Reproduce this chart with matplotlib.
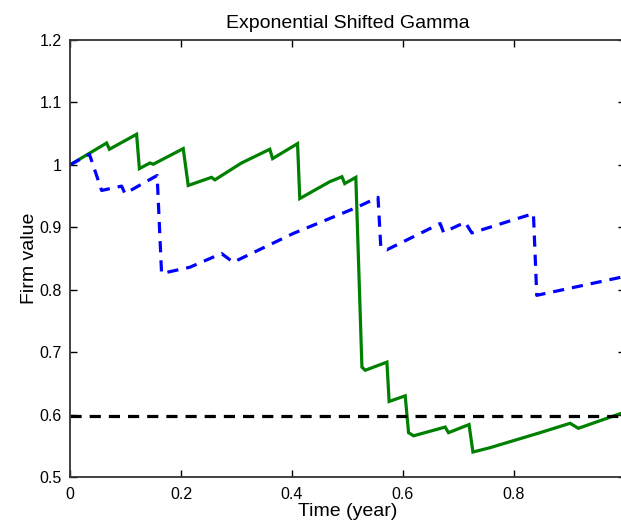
import matplotlib
matplotlib.use("Agg")
import matplotlib.pyplot as plt

plt.rcParams['font.family'] = ['Liberation Sans', 'DejaVu Sans']

# Green (solid) path
green_t = [0.0, 0.066, 0.071, 0.120, 0.125, 0.144, 0.150, 0.204, 0.213, 0.255,
           0.261, 0.309, 0.360, 0.365, 0.410, 0.414, 0.468, 0.490, 0.495, 0.515,
           0.526, 0.532, 0.571, 0.575, 0.604, 0.610, 0.619, 0.676, 0.682, 0.719,
           0.726, 0.757, 0.847, 0.901, 0.916, 0.993, 1.0]
green_v = [1.000, 1.035, 1.025, 1.049, 0.994, 1.003, 1.001, 1.026, 0.967, 0.980,
           0.976, 1.003, 1.025, 1.010, 1.034, 0.946, 0.973, 0.981, 0.970, 0.980,
           0.676, 0.671, 0.684, 0.621, 0.630, 0.571, 0.566, 0.580, 0.571, 0.584,
           0.540, 0.547, 0.571, 0.586, 0.578, 0.602, 0.604]

# Blue (dashed) path
blue_t = [0.0, 0.035, 0.057, 0.093, 0.099, 0.157, 0.165, 0.216, 0.273, 0.294,
          0.402, 0.517, 0.555, 0.560, 0.571, 0.667, 0.673, 0.712, 0.724, 0.835,
          0.841, 0.993, 1.0]
blue_v = [1.000, 1.017, 0.959, 0.966, 0.954, 0.983, 0.826, 0.836, 0.858, 0.844,
          0.890, 0.932, 0.948, 0.868, 0.864, 0.906, 0.892, 0.908, 0.891, 0.922,
          0.791, 0.820, 0.821]

barrier = 0.597

xticks = [0, 0.2, 0.4, 0.6, 0.8, 1.0]
xticklabels = ['0', '0.2', '0.4', '0.6', '0.8', '']
yticks = [0.5, 0.6, 0.7, 0.8, 0.9, 1.0, 1.1, 1.2]
yticklabels = ['0.5', '0.6', '0.7', '0.8', '0.9', '1', '1.1', '1.2']

fig = plt.figure(figsize=(6.21, 5.21), dpi=100)
ax = fig.add_axes([70/621, 1-477/521, 555/621, 437/521])

ax.plot(green_t, green_v, color='#008000', lw=2.3, solid_joinstyle='miter')
ax.plot(blue_t, blue_v, color='#0000ff', lw=2.3, linestyle=(0, (3.5, 2.5)))
ax.plot([0, 1], [barrier, barrier], color='black', lw=2.3, linestyle=(0, (3.5, 2.5)))

ax.set_xlim(0, 1)
ax.set_ylim(0.5, 1.2)
ax.set_xticks(xticks)
ax.set_xticklabels(xticklabels)
ax.set_yticks(yticks)
ax.set_yticklabels(yticklabels)
ax.tick_params(direction='in', top=True, right=True, length=5, width=1,
               labelsize=11.5, colors='black')
ax.tick_params(axis='x', pad=7)
ax.tick_params(axis='y', pad=6)
for s in ax.spines.values():
    s.set_linewidth(1.3)
    s.set_color('#333333')

ax.set_title('Exponential Shifted Gamma', fontsize=14, pad=9)
ax.set_xlabel('Time (year)', fontsize=14, labelpad=1)
ax.set_ylabel('Firm value', fontsize=14)
ax.yaxis.set_label_coords(-0.058, 0.5)

fig.savefig('out.png', dpi=100)
